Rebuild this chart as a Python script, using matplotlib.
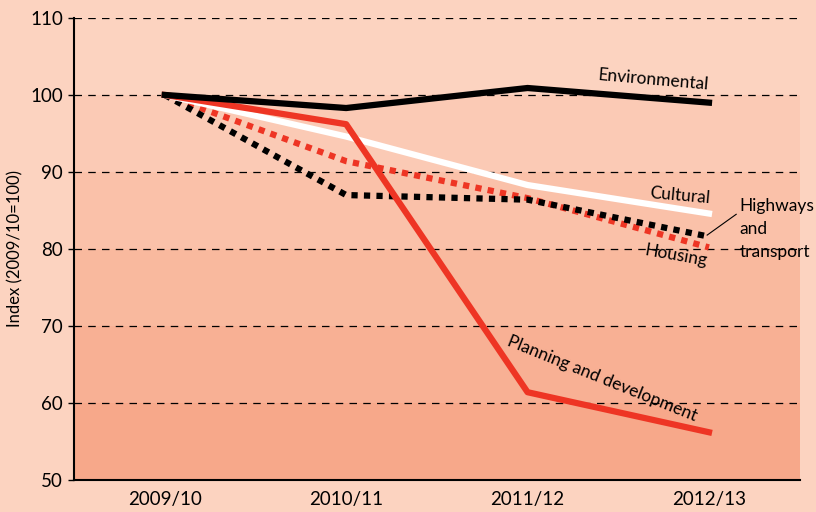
import matplotlib.pyplot as plt

# === Data ===
years = ["2009/10", "2010/11", "2011/12", "2012/13"]
environmental = [100, 98.3, 100.9, 99.0]
cultural = [100, 94.6, 88.3, 84.6]
planning = [100, 96.2, 61.4, 56.2]
housing = [100, 91.4, 86.6, 80.2]
highways = [100, 87.0, 86.4, 81.6]

band_edges = [50, 60, 70, 80, 90, 100, 110]
band_colors = ["#F7A88A", "#F8B094", "#F9B99E", "#FAC1A9", "#FBCAB5", "#FCD3C0"]

plt.rcParams['font.family'] = ['Lato', 'DejaVu Sans']

fig = plt.figure(figsize=(8.16, 5.12), dpi=100, facecolor="#FCD3C0")
ax = fig.add_axes([0.0907, 0.0625, 0.8893, 0.9025])
ax.set_facecolor("#FCD3C0")

# stepped background bands
for i in range(len(band_colors)):
    ax.axhspan(band_edges[i], band_edges[i + 1], color=band_colors[i], lw=0, zorder=0)

for y in range(60, 111, 10):
    ax.axhline(y, color="black", lw=0.9, ls=(0, (6, 5)), zorder=1)

x = [0.5, 1.5, 2.5, 3.5]
dot = (0, (1, 1))
ax.plot(x, housing, color="#EE3524", lw=4.5, ls=dot, dash_capstyle="butt", zorder=2)
ax.plot(x, highways, color="black", lw=4.5, ls=dot, dash_capstyle="butt", zorder=3)
ax.plot(x, cultural, color="white", lw=4.5, zorder=4)
ax.plot(x, planning, color="#EE3524", lw=4.5, zorder=5)
ax.plot(x, environmental, color="black", lw=4.5, zorder=6)

ax.set_xlim(0, 4)
ax.set_ylim(50, 110)
ax.set_xticks(x)
ax.set_xticklabels(years)
ax.set_yticks(range(50, 111, 10))
ax.tick_params(axis="x", length=0, labelsize=13.5, pad=8)
ax.tick_params(axis="y", length=4, width=1, labelsize=13.5, pad=4)
ax.set_ylabel("Index (2009/10=100)", fontsize=12, labelpad=5)

for s in ["top", "right"]:
    ax.spines[s].set_visible(False)
ax.spines["left"].set_linewidth(1.5)
ax.spines["bottom"].set_linewidth(1.5)

# line labels
lab = dict(fontsize=12.5, ha="center", va="center", rotation_mode="anchor")
ax.text(3.19, 101.9, "Environmental", rotation=-5, **lab)
ax.text(3.34, 86.9, "Cultural", rotation=-5, **lab)
ax.text(3.32, 79.1, "Housing", rotation=-10, **lab)
ax.text(2.91, 63.2, "Planning and development", rotation=-22, **lab)
ax.text(3.67, 86.6, "Highways\nand\ntransport", fontsize=12.5, ha="left", va="top",
        linespacing=1.55)
ax.plot([3.49, 3.65], [81.8, 84.5], color="black", lw=0.8, zorder=7)

fig.savefig("out.png", dpi=100, facecolor=fig.get_facecolor())
